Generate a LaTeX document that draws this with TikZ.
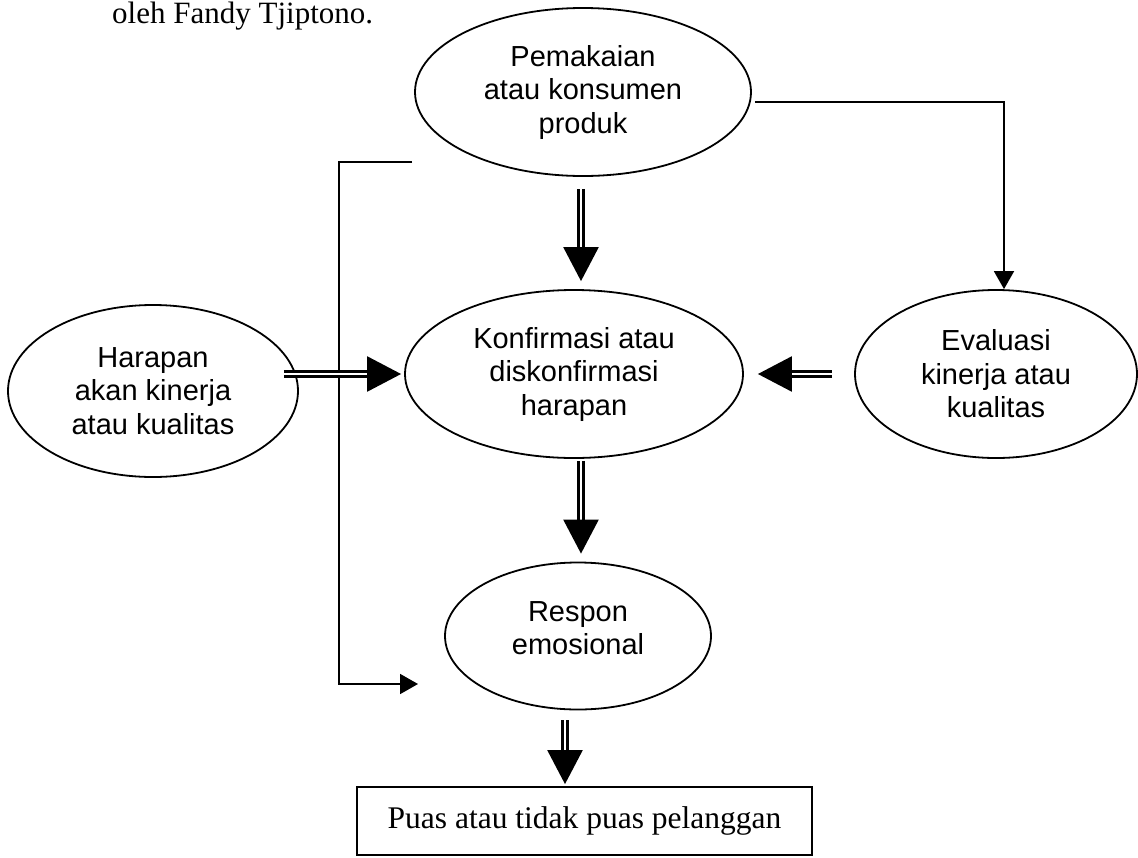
\documentclass[tikz,border=0pt]{standalone}
\usepackage{fontspec}
\setmainfont{Liberation Serif}
\newfontfamily\arialf{Liberation Sans}
\usetikzlibrary{arrows.meta,shapes.geometric,calc}

\begin{document}
\begin{tikzpicture}[x=1pt,y=-1pt,
  ell/.style={draw, ellipse, line width=1.8pt, inner sep=0pt, align=center, font=\arialf\fontsize{29}{33.5}\selectfont},
  sanstext/.style={inner sep=0pt, align=center, font=\arialf\fontsize{29}{33.5}\selectfont},
  thinline/.style={line width=1.8pt},
  thinarrow/.style={thinline, -{Triangle[length=18pt,width=20pt]}},
  dblarrow/.style={double, double distance=2.4pt, line width=2.4pt, -{Triangle[length=34pt,width=35pt]}},
  boxnode/.style={draw, line width=1.8pt, inner sep=0pt, font=\fontsize{31.5}{36}\selectfont},
]
\useasboundingbox (0,0) rectangle (1138,857);

\node[anchor=base west, font=\fontsize{31}{36}\selectfont, inner sep=0pt, text height=21pt] (title) at (112,23) {oleh Fandy Tjiptono.};

\node[ell, minimum width=336pt, minimum height=168pt] (p) at (583,92) {Pemakaian\\atau konsumen\\produk};
\node[ell, minimum width=338pt, minimum height=168pt] (k) at (574,374) {Konfirmasi atau\\diskonfirmasi\\harapan};
\node[ell, minimum width=290pt, minimum height=172pt] (h) at (153,391) {Harapan\\akan kinerja\\atau kualitas};
\node[ell, minimum width=282pt, minimum height=168pt] (e) at (996,374) {Evaluasi\\kinerja atau\\kualitas};
\node[ell, minimum width=266pt, minimum height=147pt] (r) at (578,636) {};
\node[sanstext] (rt) at (578,628) {Respon\\emosional};
\node[boxnode, minimum width=455pt, minimum height=68pt] (b) at (584.5,821) {Puas atau tidak puas pelanggan};

% thin connectors
\coordinate (c1) at (1004,102);
\draw[thinarrow, shorten <=3pt] (p.east |- c1) -- (c1) -- (c1 |- e.north);

\coordinate (l0) at (412,162);
\coordinate (l1) at (339,162);
\coordinate (l2) at (339,684);
\coordinate (l3) at (418,684);
\draw[thinarrow] (l0) -- (l1) -- (l2) -- (l3);

% double arrows
\draw[dblarrow, shorten <=12pt, shorten >=8pt] ([xshift=-2pt]p.south) -- ([xshift=-2pt]p.south |- k.north);
\draw[dblarrow, shorten <=-15pt, shorten >=3pt] (h.east |- k.west) -- (k.west);
\draw[dblarrow, shorten <=22pt, shorten >=14pt] (e.west |- k.east) -- (k.east);
\draw[dblarrow, shorten <=2pt, shorten >=8pt] ([xshift=7pt]k.south) -- ([xshift=7pt]k.south |- r.north);
\draw[dblarrow, shorten <=10pt, shorten >=2pt] ([xshift=-13pt]r.south) -- ([xshift=-13pt]r.south |- b.north);
\end{tikzpicture}
\end{document}
